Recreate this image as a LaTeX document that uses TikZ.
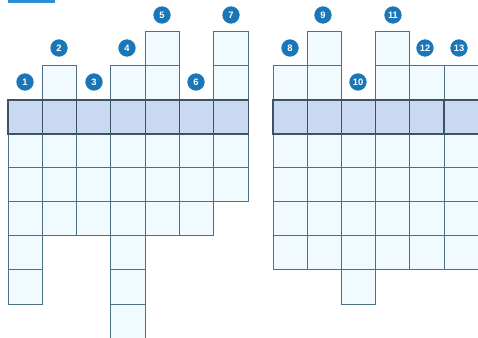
\documentclass[tikz,border=0pt]{standalone}
\usepackage{fontspec}
\setmainfont{Liberation Sans}
\definecolor{gridc}{HTML}{4F6F82}
\definecolor{cellc}{HTML}{F1FAFE}
\definecolor{hlc}{HTML}{C9D9F1}
\definecolor{hlline}{HTML}{3E5362}
\definecolor{numc}{HTML}{1B76B8}
\definecolor{barc}{HTML}{2A8FD6}
\begin{document}
\begin{tikzpicture}[x=0.75pt,y=-0.75pt,
  cell/.style={draw=gridc, fill=cellc, line width=0.75pt, minimum width=25.7pt, minimum height=25.5pt, inner sep=0pt, outer sep=0pt, anchor=north west},
  hlcell/.style={cell, fill=hlc, draw=hlline, line width=0.85pt},
  num/.style={circle, fill=numc, text=white, inner sep=0pt, minimum size=13pt, font=\bfseries\fontsize{7}{7}\selectfont}]
\useasboundingbox (0,0) rectangle (478,338);
\fill[barc] (8,0) rectangle (55,3);
% left grid
\foreach \c/\t/\b in {0/0/5, 1/-1/3, 2/0/3, 3/-1/6, 4/-2/3, 5/0/3, 6/-2/2}{
  \foreach \r in {\t,...,\b}{
    \pgfmathtruncatemacro{\rr}{\r+2}
    \node[cell] (L\c r\rr) at ({8+\c*34.3},{100+\r*34}) {};
  }
}
\foreach \c in {0,...,6}{
  \node[hlcell] (LH\c) at ({8+\c*34.3},100) {};
}
% right grid
\foreach \c/\t/\b in {0/-1/4, 1/-2/4, 2/0/5, 3/-2/4, 4/-1/4, 5/-1/4}{
  \foreach \r in {\t,...,\b}{
    \pgfmathtruncatemacro{\rr}{\r+2}
    \node[cell] (R\c r\rr) at ({273+\c*34.2},{100+\r*34}) {};
  }
}
\foreach \c in {0,...,5}{
  \node[hlcell] (RH\c) at ({273+\c*34.2},100) {};
}
% numbers
\node[num] (n1) at (25,82) {1};
\node[num] (n2) at (59,48) {2};
\node[num] (n3) at (94,82) {3};
\node[num] (n4) at (127,48) {4};
\node[num] (n5) at (162,15) {5};
\node[num] (n6) at (196,82) {6};
\node[num] (n7) at (231,15) {7};
\node[num] (n8) at (290,48) {8};
\node[num] (n9) at (323,15) {9};
\node[num] (n10) at (358,82) {10};
\node[num] (n11) at (393,15) {11};
\node[num] (n12) at (425,48) {12};
\node[num] (n13) at (459,48) {13};
\end{tikzpicture}
\end{document}
